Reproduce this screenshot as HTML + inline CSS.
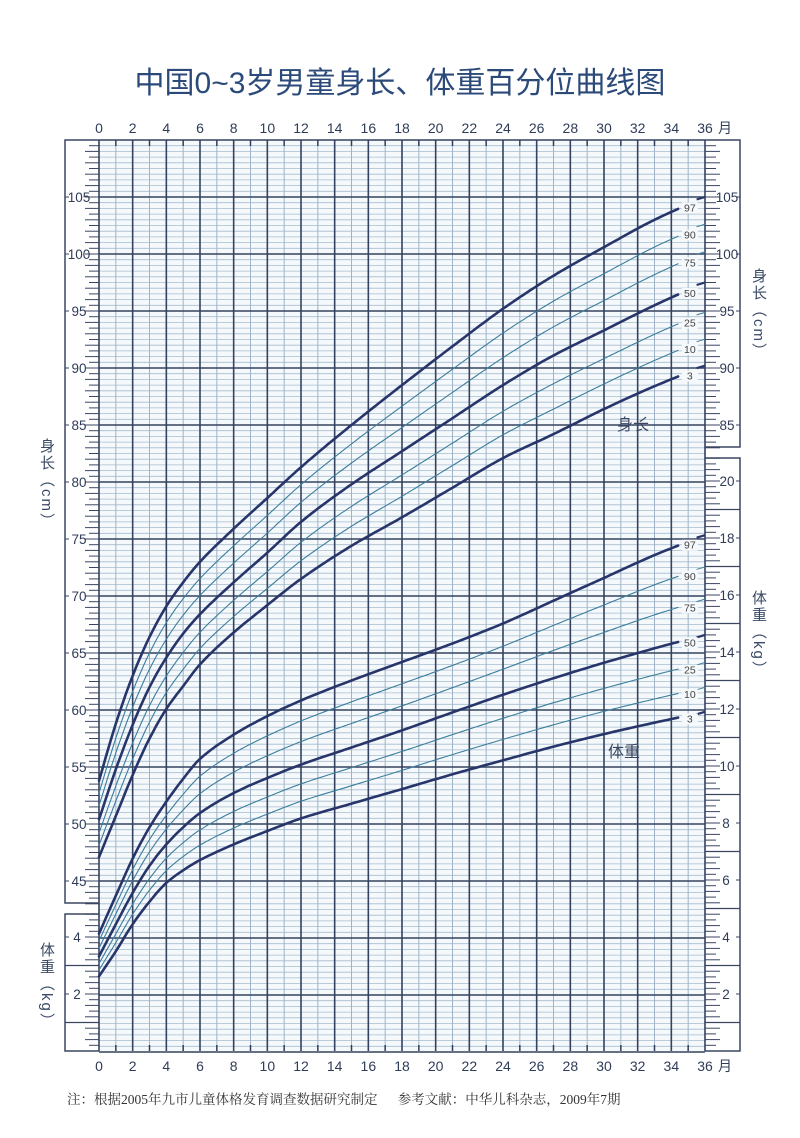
<!DOCTYPE html>
<html><head><meta charset="utf-8">
<style>
html,body{margin:0;padding:0;background:#fff;}
body{width:800px;height:1138px;overflow:hidden;position:relative;font-family:"Liberation Sans","Noto Sans CJK SC",sans-serif;}
.title{position:absolute;left:0;width:800px;top:58px;text-align:center;font-size:30px;color:#2b4a7a;letter-spacing:0px;font-family:"Liberation Sans","Noto Sans CJK SC",sans-serif;}
.foot{position:absolute;left:67px;top:1088px;font-size:13.5px;color:#333;font-family:"Liberation Serif","Noto Serif CJK SC",serif;white-space:pre;}
svg{position:absolute;left:0;top:0;}
.vl{position:absolute;writing-mode:vertical-rl;font-size:15px;color:#3a4a66;letter-spacing:2px;}
</style></head><body>
<div class="title">中国0~3岁男童身长、体重百分位曲线图</div>
<svg id="s" width="800" height="1138" xmlns="http://www.w3.org/2000/svg"></svg>
<div class="vl" style="left:36px;top:438px;">身长（cm）</div>
<div class="vl" style="left:36px;top:942px;">体重（kg）</div>
<div class="vl" style="left:748px;top:268px;">身长（cm）</div>
<div class="vl" style="left:748px;top:590px;">体重（kg）</div>
<div class="foot">注：根据2005年九市儿童体格发育调查数据研究制定      参考文献：中华儿科杂志，2009年7期</div>
<script>
var s=document.getElementById('s'),out='';
var X0=99,X1=705,PX=(X1-X0)/36,TOP=140,BOT=1051,U=5.7;
function hx(m){return X0+m*PX;}
function hy(h){return 197+(105-h)*11.4;}
function wy(k){return BOT-k*28.5;}
function L(x1,y1,x2,y2,c,w){out+='<line x1="'+x1+'" y1="'+y1+'" x2="'+x2+'" y2="'+y2+'" stroke="'+c+'" stroke-width="'+w+'"/>';}
function T(x,y,t,sz,c,a){out+='<text x="'+x+'" y="'+y+'" font-size="'+sz+'" fill="'+c+'" text-anchor="'+(a||'middle')+'" font-family="Liberation Sans, Noto Sans CJK SC, sans-serif">'+t+'</text>';}
out+='<rect x="'+X0+'" y="'+TOP+'" width="'+(X1-X0)+'" height="'+(BOT-TOP)+'" fill="#f5f9fc"/>';
for(var i=0;i<=160;i++){var y=TOP+i*U;if(i%10)L(X0,y,X1,y,'#a6bccd',0.8);}
for(var m=1;m<36;m+=2){L(hx(m),TOP,hx(m),BOT,'#9fb3c6',1);L(hx(m),TOP,hx(m),TOP+6,'#2f3e5c',1.5);L(hx(m),BOT,hx(m),BOT-6,'#2f3e5c',1.5);}
for(var i=0;i<=16;i++){var y=TOP+i*57;L(X0,y,X1,y,'#34425f',1.6);}
for(var m=0;m<=36;m+=2){L(hx(m),TOP,hx(m),BOT,'#34425f',1.6);}
var fc='#3a4660';
out+='<polyline points="'+X0+','+TOP+' 65,'+TOP+' 65,903 '+X0+',903" fill="none" stroke="'+fc+'" stroke-width="1.5"/>';
out+='<polyline points="'+X0+',914 65,914 65,'+BOT+' '+X0+','+BOT+'" fill="none" stroke="'+fc+'" stroke-width="1.5"/>';
out+='<polyline points="'+X1+','+TOP+' 740,'+TOP+' 740,447 '+X1+',447" fill="none" stroke="'+fc+'" stroke-width="1.5"/>';
out+='<polyline points="'+X1+',458 740,458 740,'+BOT+' '+X1+','+BOT+'" fill="none" stroke="'+fc+'" stroke-width="1.5"/>';
for(var i=0;i<=134;i++){var y=TOP+i*U;L(i%2?89:85,y,X0,y,'#3a4660',1);}
for(var h=45;h<=105;h+=5){var y=hy(h);L(65,y,69,y,fc,1);T(79,y+5,h,13.5,'#2f3c58');}
for(var i=0;i<=24;i++){var y=BOT-i*U;if(y<914)continue;L(i%2?89:85,y,X0,y,'#3a4660',1);}
L(65,wy(3),X0,wy(3),fc,1.2);L(65,wy(1),X0,wy(1),fc,1.2);
[2,4].forEach(function(k){var y=wy(k);L(65,y,69,y,fc,1);T(77,y+5,k,13.5,'#2f3c58');});
for(var i=0;i<=54;i++){var y=TOP+i*U;L(X1,y,i%2?716:720,y,'#3a4660',1);}
for(var h=85;h<=105;h+=5){var y=hy(h);L(736,y,740,y,fc,1);T(727,y+5,h,13.5,'#2f3c58');}
for(var i=0;i<=104;i++){var y=BOT-i*U;if(y<458)continue;L(X1,y,i%2?716:720,y,'#3a4660',1);}
for(var k=1;k<=21;k+=2){var y=wy(k);if(y>458)L(X1,y,740,y,fc,1.2);}
for(var k=2;k<=20;k+=2){var y=wy(k);L(736,y,740,y,fc,1);T(k>=10?727:726,y+5,k,13.5,'#2f3c58');}
for(var m=0;m<=36;m+=2){T(hx(m),133,m,14,'#2f3c58');T(hx(m),1071,m,14,'#2f3c58');}
T(718,133,'月',14,'#2f3c58','start');T(718,1071,'月',14,'#2f3c58','start');
var M=[0,1,2,3,4,5,6,8,10,12,15,18,21,24,27,30,33,36];
var H3=[47.1,50.7,54.3,57.5,60.1,62.1,64.0,66.8,69.2,71.5,74.4,76.9,79.5,82.1,84.2,86.4,88.4,90.2];
var H50=[50.4,54.8,58.7,62.0,64.6,66.7,68.4,71.2,73.8,76.5,79.8,82.7,85.6,88.5,91.1,93.3,95.5,97.5];
var H97=[53.8,58.8,63.0,66.4,69.1,71.2,73.0,75.9,78.6,81.3,85.0,88.5,91.9,95.2,98.1,100.6,103.0,105.0];
var W3=[2.62,3.50,4.45,5.24,5.90,6.34,6.70,7.25,7.72,8.16,8.68,9.19,9.71,10.2,10.68,11.12,11.52,11.90];
var W50=[3.32,4.45,5.55,6.50,7.25,7.85,8.35,9.05,9.58,10.05,10.65,11.25,11.88,12.5,13.08,13.62,14.13,14.60];
var W97=[4.12,5.45,6.75,7.85,8.75,9.55,10.25,11.1,11.75,12.3,13.0,13.65,14.3,15.0,15.8,16.6,17.4,18.1];
var P=[[3,-1.881],[10,-1.2816],[25,-0.6745],[50,0],[75,0.6745],[90,1.2816],[97,1.881]];
function val(a,b,c,z,i){return z<0?b[i]+(b[i]-a[i])*z/1.881:b[i]+(c[i]-b[i])*z/1.881;}
function interp(xs,ys,m){for(var i=0;i<xs.length-1;i++){if(m<=xs[i+1]){var h=xs[i+1]-xs[i],t=(m-xs[i])/h;
 var p1=ys[i],p2=ys[i+1];
 function sl(j){if(j<=0)return (ys[1]-ys[0])/(xs[1]-xs[0]);if(j>=xs.length-1)return (ys[j]-ys[j-1])/(xs[j]-xs[j-1]);
  var a=(ys[j]-ys[j-1])/(xs[j]-xs[j-1]),b=(ys[j+1]-ys[j])/(xs[j+1]-xs[j]);return 2*a*b/(a+b);}
 var d1=sl(i)*h,d2=sl(i+1)*h;
 var t2=t*t,t3=t2*t;return (2*t3-3*t2+1)*p1+(t3-2*t2+t)*d1+(-2*t3+3*t2)*p2+(t3-t2)*d2;}}return ys[ys.length-1];}
function draw(a,b,c,yf){P.forEach(function(p){var ys=M.map(function(_,i){return val(a,b,c,p[1],i);});
 var thick=(p[0]==3||p[0]==50||p[0]==97);var col=thick?'#27356a':'#3b7d9c',w=thick?2.6:1.1;
 var pts=[];for(var m=0;m<=34.4;m+=0.2){pts.push(hx(m).toFixed(1)+','+yf(interp(M,ys,m)).toFixed(1));}
 out+='<polyline points="'+pts.join(' ')+'" fill="none" stroke="'+col+'" stroke-width="'+w+'" stroke-linecap="round" stroke-linejoin="round"/>';
 var ye=yf(ys[ys.length-1]);L(hx(35.5),ye+2.5,hx(36),ye,col,thick?2.2:1);
 var yl=yf(interp(M,ys,35));
 out+='<rect x="'+(hx(35.1)-8)+'" y="'+(yl-2)+'" width="16" height="11" fill="#f5f9fc"/>';
 T(hx(35.1),yl+7,p[0],10.5,'#444');});}
draw(H3,H50,H97,hy);draw(W3,W50,W97,wy);
T(633,430,'身长',16,'#3a4660');T(624,757,'体重',16,'#3a4660');
s.innerHTML=out;
</script>
</body></html>
